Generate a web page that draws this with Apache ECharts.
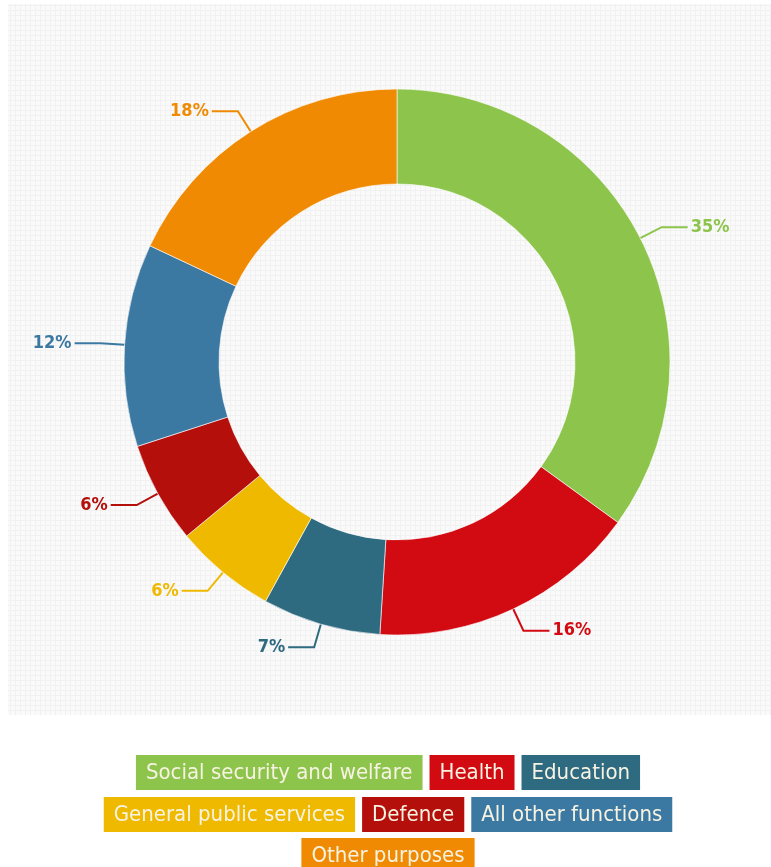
<!DOCTYPE html>
<html>
<head>
<meta charset="utf-8">
<script src="https://cdn.jsdelivr.net/npm/echarts@6/dist/echarts.min.js"></script>
<style>
html,body{margin:0;padding:0;background:#fff;}
#chart{width:771px;height:867px;}
</style>
</head>
<body>
<div id="chart"></div>
<script>
// Data
const categories = ['Social security and welfare', 'Health', 'Education', 'General public services', 'Defence', 'All other functions', 'Other purposes'];
const shares = [35, 16, 7, 6, 6, 12, 18];
const sliceColors = ['#8dc44b', '#d20b12', '#2e6a80', '#efb900', '#b40f0b', '#3b78a2', '#f08a02'];
const legendRows = [[0, 1, 2], [3, 4, 5], [6]];

const FONT = '"DejaVu Sans Condensed", "Liberation Sans Narrow", sans-serif';

// subtle grid pattern for the background
const pat = document.createElement('canvas');
pat.width = 5; pat.height = 5;
const pc = pat.getContext('2d');
pc.fillStyle = '#fafafa';
pc.fillRect(0, 0, 5, 5);
pc.fillStyle = '#f1f1f1';
pc.fillRect(0, 0, 5, 1);
pc.fillRect(0, 0, 1, 5);

const chart = echarts.init(document.getElementById('chart'), null, {renderer: 'canvas'});

const rich = {};
categories.forEach((c, i) => {
  rich['s' + i] = {
    backgroundColor: sliceColors[i],
    color: '#f7f3e2',
    fontFamily: FONT,
    fontSize: 22,
    padding: [7, 10, 6, 10],
    lineHeight: 22
  };
});

const legendTops = [750, 792, 833];
const legends = legendRows.map((row, r) => ({
  data: row.map(i => categories[i]),
  top: legendTops[r],
  left: 'center',
  orient: 'horizontal',
  icon: 'none',
  itemWidth: 0,
  itemHeight: 0,
  itemGap: 2,
  selectedMode: false,
  formatter: name => '{s' + categories.indexOf(name) + '|' + name + '}',
  textStyle: { rich: rich }
}));

chart.setOption({
  backgroundColor: '#ffffff',
  animation: false,
  graphic: [{
    type: 'rect',
    z: -10,
    silent: true,
    shape: { x: 8, y: 4, width: 763, height: 711 },
    style: { fill: { image: pat, repeat: 'repeat' } }
  }],
  legend: legends,
  series: [{
    type: 'pie',
    center: [397, 362],
    radius: [178, 273],
    startAngle: 90,
    clockwise: true,
    avoidLabelOverlap: false,
    itemStyle: { borderColor: 'rgba(255,255,255,0.6)', borderWidth: 1 },
    label: {
      show: true,
      position: 'outside',
      formatter: p => p.value + '%',
      fontFamily: FONT,
      fontSize: 18,
      fontWeight: 'bold',
      distanceToLabelLine: 3
    },
    labelLine: {
      show: true,
      length: 24,
      length2: 26,
      smooth: false,
      lineStyle: { width: 2 }
    },
    emphasis: { disabled: true },
    data: categories.map((c, i) => ({
      name: c,
      value: shares[i],
      itemStyle: { color: sliceColors[i] },
      label: { color: sliceColors[i] },
      labelLine: { lineStyle: { color: sliceColors[i] } }
    }))
  }]
});
</script>
</body>
</html>
